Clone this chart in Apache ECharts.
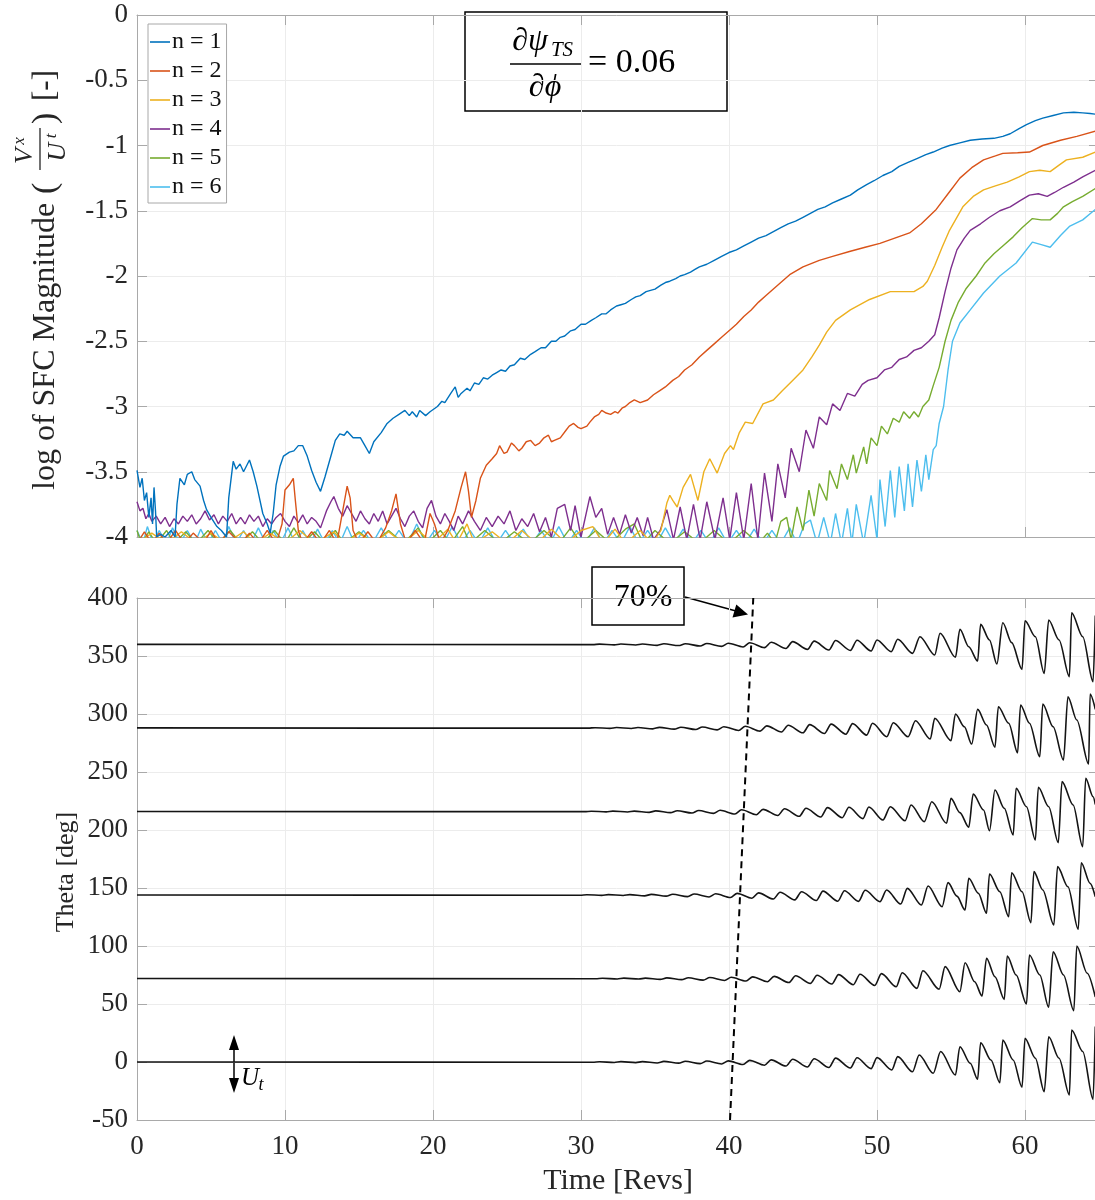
<!DOCTYPE html>
<html><head><meta charset="utf-8">
<script src="https://cdn.jsdelivr.net/npm/echarts@6/dist/echarts.min.js"></script>
<style>html,body{margin:0;padding:0;background:#fff}#c{width:1095px;height:1200px}</style>
</head><body><div id="c"></div>
<script>
// ---------- DATA ----------
const seriesNames = ['n = 1','n = 2','n = 3','n = 4','n = 5','n = 6'];
const seriesColors = ['#0072BD','#D95319','#EDB120','#7E2F8E','#77AC30','#4DBEEE'];
const timeTicks = [0,10,20,30,40,50,60];

const sfcN1 = [[0,-3.49],[0.2,-3.62],[0.35,-3.55],[0.5,-3.72],[0.65,-3.66],[0.8,-3.85],[0.95,-3.7],[1.05,-3.9],[1.15,-3.62],[1.25,-3.8],[1.33,-4.0],[1.6,-3.98],[1.9,-4.0],[2.3,-3.95],[2.57,-4.0],[2.7,-3.75],[2.9,-3.55],[3.2,-3.6],[3.4,-3.52],[3.7,-3.5],[3.9,-3.56],[4.26,-3.61],[4.5,-3.72],[4.7,-3.79],[5.0,-3.85],[5.4,-3.92],[5.7,-3.95],[6.05,-4.0],[6.2,-3.7],[6.5,-3.42],[6.7,-3.48],[6.96,-3.44],[7.2,-3.5],[7.6,-3.41],[7.85,-3.5],[8.1,-3.61],[8.5,-3.82],[8.8,-3.9],[9.0,-3.97],[9.2,-3.82],[9.4,-3.6],[9.66,-3.46],[9.9,-3.38],[10.3,-3.35],[10.6,-3.34],[10.9,-3.3],[11.2,-3.3],[11.5,-3.38],[11.8,-3.49],[12.1,-3.58],[12.4,-3.65],[12.7,-3.54],[13.15,-3.36],[13.4,-3.26],[13.7,-3.21],[14.0,-3.22],[14.2,-3.19],[14.6,-3.24],[15.1,-3.24],[15.4,-3.3],[15.7,-3.36],[16.0,-3.27],[16.5,-3.2],[16.9,-3.13],[17.3,-3.09],[17.7,-3.06],[18.1,-3.03],[18.4,-3.07],[18.6,-3.04],[18.9,-3.08],[19.1,-3.03],[19.5,-3.07],[19.8,-3.04],[20.3,-3.0],[20.6,-2.96],[20.8,-2.97],[21.2,-2.9],[21.5,-2.85],[21.7,-2.93],[21.9,-2.9],[22.3,-2.86],[22.5,-2.88],[22.8,-2.82],[23.1,-2.83],[23.4,-2.78],[23.7,-2.79],[24,-2.76],[24.3,-2.74],[24.6,-2.72],[24.9,-2.73],[25.2,-2.69],[25.5,-2.68],[25.9,-2.63],[26.2,-2.64],[26.6,-2.6],[26.9,-2.58],[27.3,-2.55],[27.6,-2.55],[28,-2.5],[28.3,-2.5],[28.6,-2.47],[28.9,-2.46],[29.3,-2.42],[29.6,-2.41],[30,-2.37],[30.3,-2.37],[30.7,-2.34],[31,-2.32],[31.4,-2.29],[31.7,-2.29],[32,-2.26],[32.4,-2.23],[32.7,-2.22],[33,-2.21],[33.4,-2.18],[33.7,-2.16],[34,-2.15],[34.4,-2.12],[34.7,-2.11],[35,-2.1],[35.4,-2.07],[35.7,-2.05],[36,-2.04],[36.4,-2.02],[36.7,-2.0],[37.0,-1.99],[37.4,-1.97],[37.7,-1.95],[38,-1.93],[38.5,-1.91],[39,-1.88],[39.5,-1.85],[40,-1.82],[40.5,-1.8],[41,-1.77],[41.5,-1.74],[42,-1.71],[42.5,-1.69],[43,-1.66],[43.5,-1.63],[44,-1.6],[44.5,-1.58],[45,-1.55],[45.5,-1.52],[46,-1.49],[46.5,-1.47],[47,-1.44],[47.6,-1.41],[48.2,-1.38],[48.7,-1.34],[49.3,-1.3],[49.8,-1.27],[50.4,-1.23],[51,-1.2],[51.5,-1.16],[52.1,-1.13],[52.7,-1.1],[53.3,-1.07],[53.8,-1.05],[54.4,-1.02],[54.9,-1.0],[55.6,-0.98],[56.3,-0.96],[57.1,-0.95],[57.9,-0.945],[58.5,-0.93],[59.0,-0.91],[59.6,-0.87],[60.1,-0.84],[60.7,-0.81],[61.2,-0.79],[61.9,-0.77],[62.6,-0.75],[63.3,-0.745],[63.9,-0.75],[64.4,-0.755],[64.75,-0.76]];

const sfcN2 = [[0,-4.05],[0.5,-3.96],[1,-4.05],[1.5,-3.97],[2,-4.05],[2.6,-3.95],[3.2,-4.05],[3.8,-3.97],[4.5,-4.05],[5,-3.95],[5.5,-4.05],[6.2,-3.96],[7,-4.05],[7.6,-3.97],[8.2,-4.05],[8.8,-3.95],[9.4,-4.05],[9.8,-3.9],[10.0,-3.64],[10.3,-3.6],[10.56,-3.55],[10.7,-3.72],[10.9,-3.95],[11.2,-4.05],[11.8,-3.96],[12.4,-4.05],[13.0,-3.95],[13.5,-4.05],[13.9,-3.8],[14.2,-3.61],[14.4,-3.7],[14.6,-3.95],[15,-4.05],[15.6,-3.96],[16.2,-4.05],[16.8,-3.93],[17.2,-3.8],[17.5,-3.67],[17.8,-3.9],[18.2,-4.05],[18.8,-3.95],[19.4,-4.05],[19.8,-3.82],[20.1,-3.9],[20.5,-4.05],[21,-3.95],[21.5,-3.8],[21.9,-3.62],[22.2,-3.5],[22.4,-3.65],[22.6,-3.85],[22.9,-3.72],[23.2,-3.55],[23.6,-3.45],[24.0,-3.4],[24.3,-3.36],[24.5,-3.3],[24.8,-3.36],[25,-3.35],[25.3,-3.28],[25.5,-3.3],[25.8,-3.34],[26,-3.32],[26.3,-3.27],[26.6,-3.26],[26.9,-3.3],[27.2,-3.28],[27.5,-3.24],[27.8,-3.22],[28.0,-3.27],[28.2,-3.26],[28.6,-3.24],[29,-3.18],[29.2,-3.15],[29.5,-3.13],[29.8,-3.16],[30,-3.17],[30.4,-3.15],[30.6,-3.12],[30.9,-3.08],[31.2,-3.06],[31.4,-3.03],[31.7,-3.05],[32,-3.06],[32.3,-3.04],[32.5,-3.05],[32.8,-3.01],[33,-3.0],[33.3,-2.97],[33.6,-2.95],[34,-2.97],[34.5,-2.95],[34.9,-2.91],[35.3,-2.88],[35.7,-2.85],[36.2,-2.8],[36.6,-2.77],[37,-2.72],[37.5,-2.68],[38,-2.62],[38.5,-2.57],[39,-2.52],[39.5,-2.47],[40.1,-2.41],[40.5,-2.37],[41,-2.31],[41.5,-2.26],[42,-2.2],[42.5,-2.15],[43,-2.1],[43.5,-2.05],[44.1,-1.99],[45,-1.93],[46.1,-1.88],[47,-1.85],[48.2,-1.81],[49.2,-1.78],[50.2,-1.75],[51.2,-1.71],[52.2,-1.67],[53,-1.6],[54,-1.49],[54.8,-1.37],[55.6,-1.25],[56.4,-1.17],[57.2,-1.11],[58,-1.08],[58.5,-1.06],[59.5,-1.055],[60.3,-1.05],[61.2,-1.0],[62.4,-0.96],[63.5,-0.93],[64.75,-0.89]];

const sfcN3 = [[0,-4.05],[1,-3.97],[2,-4.05],[3,-3.96],[4,-4.05],[5,-3.97],[6,-4.05],[7.2,-3.96],[8,-4.05],[9,-3.97],[10,-4.05],[11,-3.95],[12,-4.05],[13.3,-3.96],[14,-4.05],[15,-3.97],[16,-4.05],[17,-3.96],[18,-4.05],[19,-3.95],[20,-4.05],[21,-3.94],[21.6,-4.05],[22.3,-3.9],[22.8,-4.05],[24,-3.96],[25,-4.05],[26,-3.95],[27,-4.05],[28,-3.94],[29,-4.05],[30,-3.95],[30.8,-3.92],[31.5,-4.05],[32.3,-3.94],[33,-4.05],[34,-3.95],[34.8,-4.05],[35.4,-3.95],[35.8,-3.74],[36,-3.68],[36.2,-3.72],[36.5,-3.77],[36.9,-3.62],[37.4,-3.52],[37.9,-3.72],[38.3,-3.5],[38.7,-3.4],[39.2,-3.51],[39.7,-3.36],[40.1,-3.3],[40.3,-3.33],[40.7,-3.2],[41.1,-3.12],[41.6,-3.13],[42.3,-2.98],[43,-2.95],[43.6,-2.88],[44.3,-2.8],[45,-2.72],[45.6,-2.62],[46.1,-2.53],[46.6,-2.43],[47.2,-2.34],[48.2,-2.26],[49.5,-2.18],[50.9,-2.12],[51.7,-2.12],[52.5,-2.12],[53.1,-2.08],[53.4,-2.04],[53.9,-1.92],[54.4,-1.78],[54.9,-1.65],[55.8,-1.47],[56.5,-1.39],[57.2,-1.34],[58,-1.31],[58.8,-1.28],[59.6,-1.24],[60.3,-1.2],[61,-1.19],[61.7,-1.2],[62.3,-1.15],[62.8,-1.11],[63.9,-1.09],[64.75,-1.05]];

const sfcN4 = [[0,-3.73],[0.2,-3.8],[0.4,-3.78],[0.6,-3.86],[0.8,-3.82],[1.0,-3.88],[1.3,-3.84],[1.6,-3.9],[1.9,-3.85],[2.2,-3.92],[2.5,-3.86],[2.8,-3.9],[3.1,-3.84],[3.4,-3.88],[3.7,-3.83],[4.0,-3.9],[4.3,-3.86],[4.6,-3.8],[4.9,-3.87],[5.2,-3.83],[5.5,-3.9],[5.8,-3.84],[6.1,-3.88],[6.4,-3.82],[6.7,-3.9],[7.0,-3.85],[7.3,-3.9],[7.6,-3.83],[7.9,-3.88],[8.2,-3.84],[8.5,-3.92],[8.8,-3.86],[9.1,-3.9],[9.4,-3.85],[9.7,-3.82],[10,-3.88],[10.3,-3.92],[10.6,-3.84],[10.9,-3.89],[11.2,-3.83],[11.5,-3.9],[11.8,-3.85],[12.1,-3.88],[12.4,-3.93],[12.8,-3.8],[13.1,-3.73],[13.3,-3.69],[13.6,-3.78],[13.9,-3.84],[14.2,-3.76],[14.5,-3.82],[14.8,-3.88],[15.1,-3.8],[15.4,-3.86],[15.7,-3.9],[16,-3.82],[16.3,-3.88],[16.6,-3.8],[16.9,-3.9],[17.2,-3.84],[17.5,-3.78],[17.8,-3.86],[18.1,-3.92],[18.4,-3.84],[18.7,-3.8],[19,-3.88],[19.3,-3.93],[19.6,-3.78],[19.9,-3.72],[20.2,-3.84],[20.5,-3.9],[20.8,-3.82],[21.1,-3.88],[21.4,-3.95],[21.7,-3.84],[22,-3.9],[22.4,-3.8],[22.8,-3.88],[23.2,-3.95],[23.6,-3.85],[24,-3.92],[24.4,-3.84],[24.8,-3.9],[25.2,-3.8],[25.6,-3.95],[26,-3.86],[26.4,-3.92],[26.8,-3.82],[27.2,-3.96],[27.6,-3.85],[28,-4.0],[28.4,-3.78],[28.9,-3.75],[29.3,-3.95],[29.6,-3.76],[30.0,-4.0],[30.6,-3.69],[31.0,-3.85],[31.4,-3.78],[31.8,-3.98],[32.2,-3.85],[32.6,-3.98],[33.0,-3.83],[33.4,-3.97],[33.8,-3.85],[34.2,-3.99],[34.5,-3.85],[34.9,-4.02],[35.35,-3.95],[35.8,-3.79],[36.25,-4.02],[36.7,-3.77],[37.15,-4.02],[37.6,-3.75],[38.05,-4.02],[38.5,-3.73],[39.05,-4.02],[39.6,-3.7],[40.05,-4.02],[40.5,-3.66],[41.0,-4.02],[41.5,-3.59],[41.95,-4.02],[42.4,-3.51],[42.9,-3.88],[43.3,-3.44],[43.8,-3.7],[44.2,-3.32],[44.75,-3.5],[45.2,-3.18],[45.7,-3.32],[46.1,-3.08],[46.6,-3.14],[47.0,-2.98],[47.5,-3.03],[48.0,-2.9],[48.5,-2.92],[49.0,-2.83],[49.4,-2.8],[50,-2.78],[50.5,-2.72],[51,-2.7],[51.5,-2.64],[52,-2.62],[52.5,-2.57],[53,-2.55],[53.5,-2.5],[53.9,-2.45],[54.2,-2.32],[54.6,-2.12],[55.0,-1.94],[55.4,-1.8],[55.9,-1.71],[56.3,-1.65],[57,-1.6],[57.6,-1.55],[58.3,-1.5],[59.0,-1.47],[59.7,-1.42],[60.3,-1.38],[60.9,-1.37],[61.5,-1.39],[62,-1.36],[62.6,-1.32],[63.3,-1.28],[63.9,-1.24],[64.75,-1.19]];

const sfcN5 = [[0,-3.95],[0.3,-4.05],[0.8,-3.96],[1.3,-4.05],[2,-3.95],[2.5,-4.05],[3.3,-3.96],[4,-4.05],[4.8,-3.95],[5.5,-4.05],[6.3,-3.95],[7,-4.05],[7.8,-3.96],[8.5,-4.05],[9.3,-3.95],[10,-4.05],[10.6,-3.93],[11.2,-4.05],[12,-3.96],[12.7,-4.05],[13.4,-3.95],[14,-4.05],[15,-3.96],[16,-4.05],[17,-3.95],[18,-4.05],[19,-3.93],[19.6,-4.05],[20.5,-3.95],[21.2,-4.05],[22,-3.92],[22.5,-4.05],[23.5,-3.95],[24.5,-4.05],[25.5,-3.96],[26.5,-4.05],[27.5,-3.95],[28.5,-4.05],[29.3,-3.93],[30,-4.05],[31,-3.95],[32,-4.05],[33,-3.94],[33.6,-3.9],[34.2,-4.05],[35,-3.95],[36,-4.05],[37,-3.96],[38,-4.05],[39,-3.95],[40,-4.05],[41,-3.95],[42,-4.05],[42.6,-3.97],[43.1,-4.05],[43.5,-3.88],[43.9,-3.85],[44.2,-4.02],[44.6,-3.77],[45.0,-3.95],[45.4,-3.64],[45.75,-3.84],[46.1,-3.59],[46.6,-3.72],[46.8,-3.49],[47.3,-3.63],[47.6,-3.44],[48.0,-3.56],[48.4,-3.37],[48.6,-3.51],[49.1,-3.31],[49.3,-3.44],[49.6,-3.24],[50.0,-3.3],[50.3,-3.15],[50.7,-3.21],[51.1,-3.09],[51.5,-3.12],[51.8,-3.04],[52.2,-3.09],[52.5,-3.04],[52.8,-3.08],[53.1,-3.0],[53.5,-2.95],[53.8,-2.84],[54.2,-2.7],[54.6,-2.5],[55.0,-2.34],[55.5,-2.2],[56,-2.1],[56.7,-2.0],[57.3,-1.9],[57.9,-1.83],[58.5,-1.77],[59.2,-1.7],[59.8,-1.63],[60.5,-1.56],[61.1,-1.57],[61.7,-1.57],[62.2,-1.52],[62.6,-1.47],[63.2,-1.43],[63.9,-1.39],[64.75,-1.33]];

const sfcN6 = [[0,-3.95],[0.4,-4.05],[0.7,-3.92],[1.1,-4.05],[1.5,-3.95],[2,-4.05],[2.4,-3.93],[2.9,-4.05],[3.4,-3.95],[3.9,-4.05],[4.3,-3.94],[4.8,-4.05],[5.3,-3.95],[5.8,-4.05],[6.2,-3.92],[6.7,-4.05],[7.2,-3.95],[7.7,-4.05],[8.2,-3.93],[8.7,-4.05],[9.2,-3.95],[9.7,-4.05],[10.2,-3.93],[10.7,-4.05],[11.2,-3.95],[11.7,-4.05],[12.2,-3.94],[12.7,-4.05],[13.2,-3.95],[13.7,-4.05],[14.2,-3.92],[14.7,-4.05],[15.3,-3.95],[15.9,-4.05],[16.5,-3.93],[17.1,-4.05],[17.7,-3.95],[18.3,-4.05],[18.9,-3.9],[19.5,-4.05],[20.1,-3.95],[20.7,-4.05],[21.3,-3.92],[21.9,-4.05],[22.5,-3.95],[23.1,-4.05],[23.7,-3.93],[24.3,-4.05],[24.9,-3.95],[25.5,-4.05],[26.1,-3.94],[26.7,-4.05],[27.3,-3.95],[27.9,-4.05],[28.5,-3.92],[29.1,-4.05],[29.7,-3.95],[30.3,-4.05],[30.9,-3.93],[31.5,-4.05],[32.1,-3.95],[32.7,-4.05],[33.3,-3.92],[33.9,-4.05],[34.5,-3.95],[35.1,-4.05],[35.7,-3.93],[36.3,-4.05],[36.9,-3.94],[37.5,-4.05],[38.1,-3.95],[38.7,-4.05],[39.3,-3.93],[39.9,-4.05],[40.5,-3.95],[41.1,-4.05],[41.7,-3.94],[42.3,-4.05],[42.9,-3.95],[43.5,-4.05],[44.1,-3.93],[44.6,-4.05],[45.1,-3.9],[45.5,-3.87],[45.95,-4.05],[46.4,-3.85],[46.85,-4.05],[47.2,-3.82],[47.6,-4.05],[48.0,-3.78],[48.3,-4.05],[48.6,-3.75],[49.1,-4.05],[49.6,-3.68],[50.0,-4.02],[50.2,-3.56],[50.55,-3.92],[50.9,-3.49],[51.2,-3.85],[51.5,-3.46],[51.85,-3.8],[52.1,-3.44],[52.4,-3.77],[52.7,-3.41],[53.0,-3.65],[53.3,-3.37],[53.5,-3.56],[53.8,-3.33],[54.0,-3.3],[54.2,-3.13],[54.5,-3.0],[54.8,-2.72],[55.1,-2.5],[55.6,-2.36],[56.3,-2.26],[57.2,-2.13],[58.3,-2.0],[59.4,-1.9],[60.5,-1.74],[61.1,-1.76],[61.7,-1.78],[62.4,-1.69],[63.0,-1.62],[63.9,-1.57],[64.75,-1.49]];

const theta360 = [[0,360],[30.8,359.8],[31.25,360.2],[32.25,359.6],[32.7,360.3],[33.7,359.5],[34.15,360.3],[35.15,359.2],[35.6,360.5],[36.6,359],[37.05,360.6],[38.05,358.6],[38.5,360.8],[39.5,358.3],[39.95,361],[40.95,357.8],[41.4,361.4],[42.4,357.2],[42.85,361.8],[43.85,356.5],[44.3,362.4],[45.3,355.7],[45.75,362.8],[46.75,355.2],[47.2,363.3],[48.2,354.8],[48.65,363.6],[49.6,354.3],[50.0,363.8],[50.96,353.7],[51.4,364.4],[52.4,352.3],[52.9,366.6],[53.9,350.9],[54.26,369.6],[55.3,348.9],[55.6,373],[56.2,358],[56.8,345.7],[57.0,377.3],[57.6,363.8],[58.1,343.1],[58.5,378.7],[59.1,361.5],[59.8,338.5],[60.0,380.4],[60.7,366.6],[61.3,335],[61.6,381],[62.3,363.8],[63.0,332.2],[63.15,387.3],[63.9,366.6],[64.6,327.8],[64.75,385]];
const theta288 = [[0,288],[30.5,287.8],[30.95,288.2],[31.95,287.6],[32.4,288.3],[33.4,287.5],[33.85,288.3],[34.85,287.2],[35.3,288.5],[36.3,287],[36.75,288.6],[37.75,286.6],[38.2,288.8],[39.2,286.3],[39.65,289],[40.65,285.8],[41.1,289.4],[42.1,285.2],[42.55,289.8],[43.55,284.5],[44.0,290.3],[45.0,283.8],[45.45,290.8],[46.45,283.2],[46.9,291.3],[47.9,282.6],[48.35,291.7],[49.3,281.8],[49.7,292],[50.66,280.4],[51.1,292.5],[52.1,280.4],[52.6,294.2],[53.6,278.4],[53.9,296.3],[55.0,277],[55.3,300],[55.9,289],[56.4,274.1],[56.8,304],[57.4,290.5],[57.97,271.3],[58.2,306.3],[58.9,292],[59.5,266.6],[59.7,307.8],[60.3,292],[61.0,263.2],[61.2,308.6],[61.9,289],[62.6,260.3],[62.9,314.9],[63.5,294.8],[64.3,256.9],[64.4,317.2],[64.75,304]];
const theta216 = [[0,216],[30.25,215.8],[30.7,216.2],[31.7,215.6],[32.15,216.3],[33.15,215.5],[33.6,216.3],[34.6,215.2],[35.05,216.5],[36.05,215],[36.5,216.6],[37.5,214.6],[37.95,216.8],[38.95,214.3],[39.4,217],[40.4,213.8],[40.85,217.4],[41.85,213.2],[42.3,217.8],[43.3,212.5],[43.75,218.3],[44.75,211.8],[45.2,218.8],[46.2,211.2],[46.65,219.3],[47.65,210.6],[48.1,219.6],[49.05,209.8],[49.45,219.8],[50.4,208.6],[50.9,220.1],[51.9,208],[52.3,221.6],[53.2,207.2],[53.7,224.4],[54.7,205.8],[55.0,227.3],[55.6,215],[56.2,202.4],[56.5,231],[57.2,217.2],[57.6,199.4],[57.97,234.5],[58.6,218.7],[59.2,195.7],[59.4,236],[60.1,220.1],[60.7,191.4],[60.9,236.8],[61.6,220.1],[62.25,189.1],[62.5,241.7],[63.25,221.6],[63.9,185.6],[64.1,244.6],[64.6,228.7],[64.75,222]];
const theta144 = [[0,144],[29.95,143.8],[30.4,144.2],[31.4,143.6],[31.85,144.3],[32.85,143.5],[33.3,144.3],[34.3,143.2],[34.75,144.5],[35.75,143],[36.2,144.6],[37.2,142.6],[37.65,144.8],[38.65,142.3],[39.1,145],[40.1,141.8],[40.55,145.4],[41.55,141.2],[42.0,145.8],[43.0,140.5],[43.45,146.3],[44.45,139.8],[44.9,146.8],[45.9,139.2],[46.35,147.3],[47.35,138.6],[47.8,147.6],[48.75,138.5],[49.2,148],[50.2,138.2],[50.65,148.3],[51.6,136.2],[52.05,149.7],[53.0,135.3],[53.45,151.7],[54.4,133.9],[54.8,154.6],[55.4,143],[55.95,131],[56.2,158.4],[56.85,145.4],[57.4,128.2],[57.6,162.1],[58.3,146.8],[58.9,125.3],[59.1,163.2],[59.8,146.8],[60.4,120.1],[60.6,164.1],[61.2,148.3],[61.95,118.1],[62.2,168.4],[62.9,151.1],[63.6,114.4],[63.8,171.8],[64.4,154],[64.75,142.5]];
const theta72 = [[0,72],[31.0,71.8],[31.45,72.2],[32.45,71.6],[32.9,72.3],[33.9,71.5],[34.35,72.3],[35.35,71.2],[35.8,72.5],[36.8,71],[37.25,72.6],[38.25,70.6],[38.7,72.8],[39.7,70.3],[40.15,73],[41.15,69.8],[41.6,73.4],[42.6,69.2],[43.05,73.8],[44.05,68.5],[44.5,74.3],[45.5,67.8],[45.95,74.8],[46.95,67.2],[47.4,75.3],[48.4,66.6],[48.85,75.6],[49.85,66],[50.3,76.2],[51.3,64.9],[51.7,77],[52.7,63.5],[53.1,78.7],[54.2,62.7],[54.6,82.2],[55.6,60.6],[55.95,85.6],[56.6,69.2],[57.1,56.9],[57.4,89.4],[57.97,73.5],[58.6,54],[58.8,91.4],[59.4,75],[60.1,50],[60.3,92.2],[61.0,75],[61.6,47.2],[61.9,95.1],[62.6,75],[63.3,44.3],[63.5,100],[64.2,76.5],[64.75,56]];
const theta0 = [[0,0],[30.8,-0.2],[31.25,0.2],[32.25,-0.4],[32.7,0.3],[33.7,-0.5],[34.15,0.3],[35.15,-0.8],[35.6,0.5],[36.6,-1],[37.05,0.6],[38.05,-1.4],[38.5,0.8],[39.5,-1.7],[39.95,1],[40.95,-2.2],[41.4,1.4],[42.4,-2.8],[42.85,1.8],[43.85,-3.5],[44.3,2.4],[45.3,-4.3],[45.75,2.8],[46.75,-4.8],[47.2,3.3],[48.2,-5.2],[48.65,3.6],[49.6,-5.7],[50.0,3.8],[51.0,-6.9],[51.4,4.6],[52.4,-8.4],[52.85,6],[53.8,-9.7],[54.3,9.1],[55.3,-11.2],[55.6,13.2],[56.3,-1.1],[56.8,-14.9],[57.0,16.6],[57.7,1.7],[58.3,-17.8],[58.5,18.9],[59.2,1.7],[59.8,-21.8],[60.0,20.4],[60.7,3.2],[61.3,-25.6],[61.6,21.8],[62.3,3.2],[63.0,-28.4],[63.15,27.6],[63.9,9.1],[64.6,-32.2],[64.75,30.5]];

const marker70 = [[40.07,-50],[41.64,400]];

const sfcData = [sfcN1, sfcN2, sfcN3, sfcN4, sfcN5, sfcN6];
const thetaData = [theta0, theta72, theta144, theta216, theta288, theta360];

// ---------- STYLE ----------
const SERIF = '"Liberation Serif","Times New Roman",serif';
const axisGray = '#a9a9a9';
const gridGray = '#ececec';
const labelColor = '#262626';

function baseX(gi, showLabels, extra) {
  return Object.assign({
    gridIndex: gi, type: 'value', min: 0, max: 65, interval: 10,
    axisLine: {show: true, onZero: false, lineStyle: {color: axisGray, width: 1}},
    axisTick: {show: true, inside: true, length: 10, lineStyle: {color: axisGray}, customValues: timeTicks},
    axisLabel: {show: showLabels, fontFamily: SERIF, fontSize: 27, color: labelColor, margin: 13,
      customValues: timeTicks},
    splitLine: {show: true, lineStyle: {color: gridGray, width: 1}}
  }, extra || {});
}
function baseY(gi, min, max, interval, extra) {
  return Object.assign({
    gridIndex: gi, type: 'value', min: min, max: max, interval: interval,
    axisLine: {show: true, onZero: false, lineStyle: {color: axisGray, width: 1}},
    axisTick: {show: true, inside: true, length: 10, lineStyle: {color: axisGray}},
    axisLabel: {show: true, fontFamily: SERIF, fontSize: 27, color: labelColor, margin: 9},
    splitLine: {show: true, lineStyle: {color: gridGray, width: 1}}
  }, extra || {});
}

const series = [];
sfcData.forEach((d, i) => {
  series.push({
    name: seriesNames[i], type: 'line', xAxisIndex: 0, yAxisIndex: 0, data: d,
    showSymbol: false, symbol: 'none', clip: true,
    lineStyle: {color: seriesColors[i], width: 1.4}, itemStyle: {color: seriesColors[i]},
    z: 2 + (6 - i)
  });
});
thetaData.forEach((d, i) => {
  series.push({
    name: 'theta' + i, type: 'line', xAxisIndex: 2, yAxisIndex: 2, data: d,
    showSymbol: false, symbol: 'none', clip: true, smooth: 0.3, smoothMonotone: 'x',
    lineStyle: {color: '#141414', width: 1.6}
  });
});
series.push({
  name: 'marker', type: 'line', xAxisIndex: 2, yAxisIndex: 2, data: marker70,
  showSymbol: false, symbol: 'none', clip: false, z: 6,
  lineStyle: {color: '#000', width: 2, type: [7, 5]}
});

function T(x, y, text, font, align, fill) {
  return {type: 'text', x: x, y: y, style: {text: text, font: font, fill: fill || labelColor,
    align: align || 'center', verticalAlign: 'middle', textAlign: align || 'center', textVerticalAlign: 'middle'}};
}

const graphics = [];
// rotated y label of top plot
graphics.push({
  type: 'group', x: 46, y: 490, rotation: Math.PI / 2, silent: true,
  children: [
    T(0, 0, 'log of SFC Magnitude', '32px ' + SERIF, 'left'),
    T(296, 0, '(', '34px ' + SERIF, 'left'),
    T(334, -21, 'V', 'italic 26px ' + SERIF),
    T(349, -26, 'x', 'italic 17px ' + SERIF),
    {type: 'line', shape: {x1: 320, y1: -6, x2: 362, y2: -6}, style: {stroke: labelColor, lineWidth: 1.3}},
    T(338, 12, 'U', 'italic 26px ' + SERIF),
    T(354, 6, 't', 'italic 17px ' + SERIF),
    T(366, 0, ')', '34px ' + SERIF, 'left'),
    T(389, 0, '[-]', '31px ' + SERIF, 'left')
  ]
});
// theta axis title
graphics.push({
  type: 'group', x: 66, y: 872, rotation: Math.PI / 2, silent: true,
  children: [T(0, 0, 'Theta [deg]', '26px ' + SERIF, 'center')]
});
// formula box
graphics.push({
  type: 'group', silent: true, z: 10,
  children: [
    {type: 'rect', shape: {x: 465, y: 12, width: 262, height: 99}, style: {fill: '#fff', stroke: '#000', lineWidth: 1.5}},
    T(530, 42, '∂ψ', 'italic 32px ' + SERIF, 'center', '#000'),
    T(562, 50, 'TS', 'italic 21px ' + SERIF, 'center', '#000'),
    {type: 'line', shape: {x1: 510, y1: 64, x2: 581, y2: 64}, style: {stroke: '#000', lineWidth: 1.5}},
    T(545, 88, '∂ϕ', 'italic 32px ' + SERIF, 'center', '#000'),
    T(588, 63, '= 0.06', '34px ' + SERIF, 'left', '#000')
  ]
});
// 70% box and arrow
graphics.push({
  type: 'group', silent: true, z: 10,
  children: [
    {type: 'rect', shape: {x: 592, y: 567, width: 92, height: 58}, style: {fill: '#fff', stroke: '#000', lineWidth: 1.5}},
    T(643, 598, '70%', '32px ' + SERIF, 'center', '#000'),
    {type: 'line', shape: {x1: 685, y1: 597, x2: 736, y2: 611}, style: {stroke: '#000', lineWidth: 1.5}},
    {type: 'polygon', shape: {points: [[748, 614.5], [732.5, 617.5], [736.3, 604.5]]}, style: {fill: '#000'}}
  ]
});
// U_t double arrow
graphics.push({
  type: 'group', silent: true, z: 10,
  children: [
    {type: 'line', shape: {x1: 234, y1: 1046, x2: 234, y2: 1082}, style: {stroke: '#000', lineWidth: 1.5}},
    {type: 'polygon', shape: {points: [[234, 1035], [229, 1050], [239, 1050]]}, style: {fill: '#000'}},
    {type: 'polygon', shape: {points: [[234, 1093], [229, 1078], [239, 1078]]}, style: {fill: '#000'}},
    T(250, 1078, 'U', 'italic 25px ' + SERIF, 'center', '#000'),
    T(261, 1085, 't', 'italic 18px ' + SERIF, 'center', '#000')
  ]
});

const option = {
  animation: false,
  backgroundColor: '#fff',
  grid: [
    {left: 137, top: 15, width: 962, height: 522, outerBoundsMode: 'none', containLabel: false},
    {left: 137, top: 598, width: 962, height: 522, outerBoundsMode: 'none', containLabel: false}
  ],
  xAxis: [
    baseX(0, false),
    baseX(0, false, {position: 'top', splitLine: {show: false}}),
    baseX(1, true, {name: 'Time [Revs]', nameLocation: 'middle', nameGap: 46,
      nameTextStyle: {fontFamily: SERIF, fontSize: 30, color: labelColor}}),
    baseX(1, false, {position: 'top', splitLine: {show: false}})
  ],
  yAxis: [
    baseY(0, -4, 0, 0.5),
    baseY(0, -4, 0, 0.5, {position: 'right', axisLabel: {show: false}, splitLine: {show: false}}),
    baseY(1, -50, 400, 50),
    baseY(1, -50, 400, 50, {position: 'right', axisLabel: {show: false}, splitLine: {show: false}})
  ],
  legend: {
    data: seriesNames, orient: 'vertical', left: 148, top: 24,
    icon: 'rect', itemWidth: 20, itemHeight: 1.6, itemGap: 5,
    padding: [6, 5, 4, 2],
    backgroundColor: '#fff', borderColor: '#a8a8a8', borderWidth: 1,
    textStyle: {fontFamily: SERIF, fontSize: 24, color: '#111', lineHeight: 24, padding: [0, 0, 0, -3]},
    selectedMode: false, z: 8
  },
  graphic: graphics,
  series: series
};

const chart = echarts.init(document.getElementById('c'), null, {renderer: 'canvas'});
chart.setOption(option);
</script>
</body></html>
